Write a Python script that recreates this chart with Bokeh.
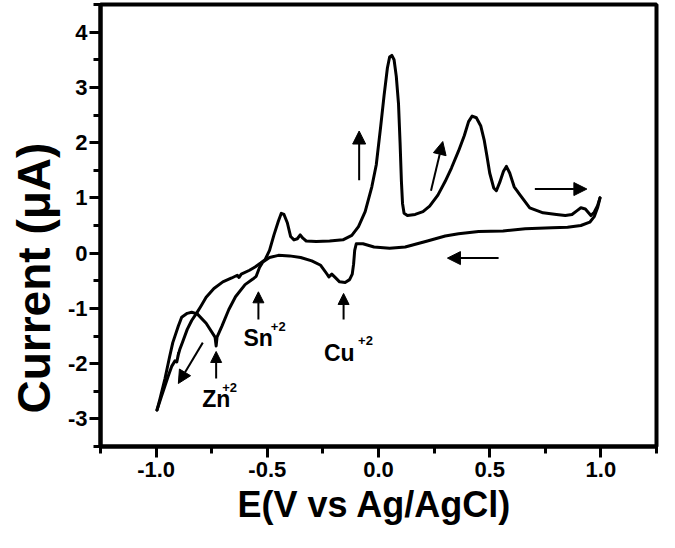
from bokeh.plotting import figure
from bokeh.models import Range1d, FixedTicker, Arrow, NormalHead, Label, Title
from bokeh.embed import file_html
from bokeh.resources import INLINE

# ---------------- data ----------------
# reverse (cathodic) sweep: +1.0 V -> -1.0 V  (E in V, I in uA)
reverse_scan = [
    (0.996, 1.00), (0.985, 0.82), (0.97, 0.66), (0.95, 0.56), (0.91, 0.50),
    (0.85, 0.47), (0.78, 0.46), (0.66, 0.44), (0.56, 0.40), (0.45, 0.39),
    (0.36, 0.35), (0.30, 0.31), (0.22, 0.22), (0.12, 0.11), (0.05, 0.09),
    (-0.02, 0.11), (-0.07, 0.17), (-0.10, 0.17), (-0.107, 0.05), (-0.112, -0.20),
    (-0.118, -0.38), (-0.13, -0.48), (-0.15, -0.53), (-0.175, -0.52), (-0.195, -0.44),
    (-0.21, -0.38), (-0.223, -0.43), (-0.235, -0.36), (-0.26, -0.22), (-0.30, -0.14),
    (-0.35, -0.08), (-0.40, -0.05), (-0.45, -0.04), (-0.49, -0.08), (-0.52, -0.16),
    (-0.535, -0.26), (-0.55, -0.42), (-0.565, -0.47), (-0.60, -0.57), (-0.643, -0.79),
    (-0.673, -1.02), (-0.704, -1.32), (-0.726, -1.52), (-0.73, -1.68), (-0.735, -1.52),
    (-0.775, -1.27), (-0.815, -1.10), (-0.84, -1.07), (-0.86, -1.09), (-0.885, -1.16),
    (-0.90, -1.32), (-0.925, -1.62), (-0.94, -1.89), (-0.96, -2.27), (-0.982, -2.63),
    (-0.996, -2.84),
]
# forward (anodic) sweep: -1.0 V -> +1.0 V
forward_scan = [
    (-0.996, -2.84), (-0.978, -2.62), (-0.96, -2.40), (-0.945, -2.22), (-0.93, -2.05),
    (-0.915, -1.95), (-0.907, -1.97), (-0.898, -1.80), (-0.903, -1.88), (-0.894, -1.75),
    (-0.88, -1.60), (-0.86, -1.38), (-0.84, -1.22), (-0.82, -1.10), (-0.80, -0.97),
    (-0.775, -0.80), (-0.74, -0.64), (-0.70, -0.52), (-0.66, -0.45), (-0.635, -0.40),
    (-0.627, -0.44), (-0.617, -0.38), (-0.58, -0.31), (-0.555, -0.25), (-0.53, -0.18),
    (-0.51, -0.12), (-0.49, 0.05), (-0.47, 0.33), (-0.45, 0.58), (-0.437, 0.72),
    (-0.425, 0.70), (-0.41, 0.55), (-0.395, 0.30), (-0.38, 0.24), (-0.365, 0.26),
    (-0.352, 0.33), (-0.34, 0.27), (-0.325, 0.22), (-0.28, 0.21), (-0.22, 0.22),
    (-0.16, 0.24), (-0.12, 0.32), (-0.09, 0.48), (-0.06, 0.75), (-0.03, 1.20),
    (-0.01, 1.60), (0.01, 2.30), (0.025, 2.85), (0.04, 3.35), (0.05, 3.55),
    (0.06, 3.58), (0.07, 3.50), (0.08, 3.20), (0.09, 2.70), (0.097, 2.00),
    (0.103, 1.30), (0.108, 0.90), (0.115, 0.72), (0.13, 0.68), (0.165, 0.70),
    (0.20, 0.75), (0.23, 0.85), (0.267, 1.05), (0.30, 1.30), (0.328, 1.54),
    (0.36, 1.85), (0.386, 2.13), (0.405, 2.38), (0.421, 2.48), (0.44, 2.45),
    (0.46, 2.30), (0.475, 2.05), (0.487, 1.77), (0.50, 1.45), (0.518, 1.18),
    (0.53, 1.13), (0.545, 1.28), (0.562, 1.48), (0.575, 1.57), (0.59, 1.45),
    (0.61, 1.20), (0.637, 1.05), (0.68, 0.82), (0.74, 0.73), (0.80, 0.70),
    (0.84, 0.68), (0.87, 0.70), (0.893, 0.77), (0.91, 0.82), (0.93, 0.80),
    (0.955, 0.68), (0.97, 0.74), (0.985, 0.86), (0.996, 1.00),
]

x_tick_values = [-1.0, -0.5, 0.0, 0.5, 1.0]
x_tick_labels = ["-1.0", "-0.5", "0.0", "0.5", "1.0"]
x_minor_values = [-1.25, -0.75, -0.25, 0.25, 0.75, 1.25]
y_tick_values = [-3, -2, -1, 0, 1, 2, 3, 4]
y_tick_labels = ["-3", "-2", "-1", "0", "1", "2", "3", "4"]
y_minor_values = [-3.5, -2.5, -1.5, -0.5, 0.5, 1.5, 2.5, 3.5, 4.5]

x_title = "E(V vs Ag/AgCl)"
y_title = "Current (μA)"

# scan-direction arrows and peak markers: (x_start, y_start, x_end, y_end)
direction_arrows = [
    (-0.087, 1.32, -0.087, 2.21),
    (0.236, 1.13, 0.289, 2.02),
    (0.703, 1.16, 0.937, 1.16),
    (0.54, -0.09, 0.31, -0.09),
    (-0.79, -1.62, -0.90, -2.36),
]
peak_arrows = [
    (-0.73, -2.27, -0.73, -1.78),
    (-0.54, -1.20, -0.54, -0.70),
    (-0.157, -1.20, -0.157, -0.73),
]
# ion labels: (text, x, y, superscript, sup_x, sup_y)
ion_labels = [
    ("Zn", -0.793, -2.64, "+2", -0.703, -2.43),
    ("Sn", -0.607, -1.54, "+2", -0.484, -1.32),
    ("Cu", -0.245, -1.80, "+2", -0.092, -1.59),
]

FONT = "Liberation Sans"

p = figure(frame_width=556, frame_height=442,
           min_border_left=100, min_border_right=3, min_border_top=4, min_border_bottom=86,
           x_range=Range1d(-1.25, 1.25), y_range=Range1d(-3.5, 4.5),
           output_backend="svg", toolbar_location=None,
           background_fill_color="white", border_fill_color="white")
p.grid.visible = False
p.outline_line_color = "black"
p.outline_line_width = 4
p.outline_line_alpha = 1.0

rE = [e for e, i in reverse_scan]
rI = [i for e, i in reverse_scan]
fE = [e for e, i in forward_scan]
fI = [i for e, i in forward_scan]
p.line(rE, rI, line_color="black", line_width=3, line_join="round", line_cap="round")
p.line(fE, fI, line_color="black", line_width=3, line_join="round", line_cap="round")

p.xaxis.ticker = FixedTicker(ticks=x_tick_values, minor_ticks=x_minor_values)
p.yaxis.ticker = FixedTicker(ticks=y_tick_values, minor_ticks=y_minor_values)
p.xaxis.major_label_overrides = dict(zip(x_tick_values, x_tick_labels))
p.yaxis.major_label_overrides = dict(zip(y_tick_values, y_tick_labels))

for ax in (p.xaxis, p.yaxis):
    ax.axis_line_width = 4
    ax.axis_line_color = "black"
    ax.major_tick_line_width = 3
    ax.minor_tick_line_width = 3
    ax.major_tick_line_color = "black"
    ax.minor_tick_line_color = "black"
    ax.major_tick_out = 11
    ax.major_tick_in = 0
    ax.minor_tick_out = 7
    ax.minor_tick_in = 0
    ax.major_label_text_font = FONT
    ax.major_label_text_font_style = "bold"
    ax.major_label_text_font_size = "22px"
    ax.major_label_text_color = "black"
p.xaxis.major_label_standoff = 4
p.yaxis.major_label_standoff = 2

# axis titles as side-panel titles (offset along the axis, like the reference)
p.add_layout(Title(text=x_title, align="left", offset=137, standoff=4,
                   text_font=FONT, text_font_style="bold", text_font_size="36px",
                   text_color="black"), "below")
p.add_layout(Title(text=y_title, align="left", offset=33, standoff=10,
                   text_font=FONT, text_font_style="bold", text_font_size="46px",
                   text_color="black"), "left")

for x0, y0, x1, y1 in direction_arrows:
    p.add_layout(Arrow(x_start=x0, y_start=y0, x_end=x1, y_end=y1,
                       line_color="black", line_width=2,
                       end=NormalHead(size=13, fill_color="black", line_color="black", line_width=1)))
for x0, y0, x1, y1 in peak_arrows:
    p.add_layout(Arrow(x_start=x0, y_start=y0, x_end=x1, y_end=y1,
                       line_color="black", line_width=2,
                       end=NormalHead(size=11, fill_color="black", line_color="black", line_width=1)))

for txt, lx, ly, sup, sx, sy in ion_labels:
    p.add_layout(Label(x=lx, y=ly, text=txt, text_font=FONT, text_font_style="bold",
                       text_font_size="23px", text_color="black", text_baseline="alphabetic"))
    p.add_layout(Label(x=sx, y=sy, text=sup, text_font=FONT, text_font_style="bold",
                       text_font_size="13px", text_color="black", text_baseline="alphabetic"))

open("out.html", "w").write(file_html(p, INLINE))
